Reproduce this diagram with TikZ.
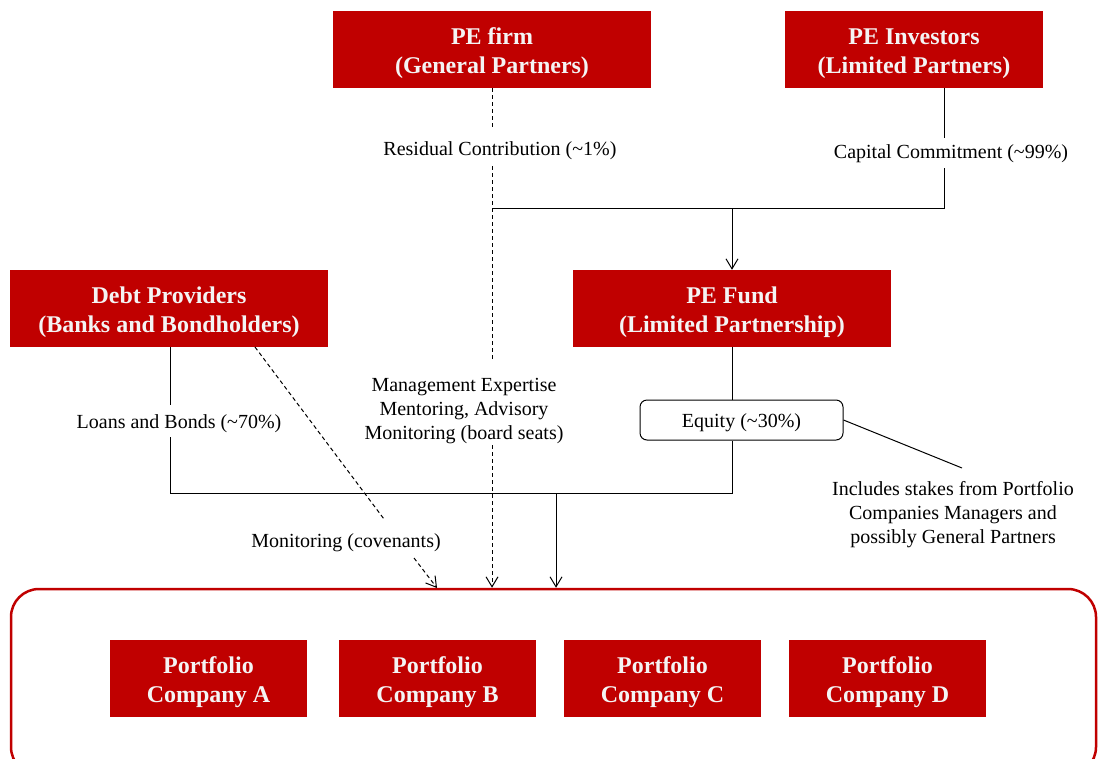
\documentclass[tikz,border=0pt]{standalone}
\usepackage{fontspec}
\setmainfont{Liberation Serif}
\usetikzlibrary{arrows.meta}
\definecolor{pered}{HTML}{C00000}
\definecolor{boxtext}{HTML}{F4F4F4}
\begin{document}
\begin{tikzpicture}[x=1pt,y=-1pt,
  redbox/.style={fill=pered, inner sep=0pt, minimum width=318pt, minimum height=77pt},
  boxtxt/.style={text=boxtext, font=\fontsize{24}{29}\selectfont\bfseries, align=center, inner sep=0pt, yshift=-4pt},
  pbox/.style={redbox, minimum width=197pt},
  lbl/.style={font=\fontsize{20}{24}\selectfont, align=center, inner sep=2pt, yshift=-3pt},
  eqtxt/.style={font=\fontsize{20}{24}\selectfont, inner sep=0pt, yshift=-3pt},
  ln/.style={line width=1pt},
  dsh/.style={line width=1pt, dash pattern=on 4pt off 3pt},
  arr/.style={-{Straight Barb[length=10pt,width=12pt]}}
]
\useasboundingbox (0,0) rectangle (1099,758);
\clip (0,0) rectangle (1099,758);

% main boxes
\node[redbox, label={[boxtxt]center:PE firm\\(General Partners)}] (firm) at (492,49.5) {};
\node[redbox, minimum width=258pt, label={[boxtxt]center:PE Investors\\(Limited Partners)}] (inv) at (914,49.5) {};
\node[redbox, label={[boxtxt]center:Debt Providers\\(Banks and Bondholders)}] (debt) at (169,308.5) {};
\node[redbox, label={[boxtxt]center:PE Fund\\(Limited Partnership)}] (fund) at (732,308.5) {};

% portfolio group
\node[draw=pered, line width=2.5pt, rounded corners=28pt, minimum width=1085pt, minimum height=186pt, inner sep=0pt] (grp) at (553.5,682) {};
\node[pbox, label={[boxtxt]center:Portfolio\\Company A}] (pa) at (208.5,678.5) {};
\node[pbox, label={[boxtxt]center:Portfolio\\Company B}] (pb) at (437.5,678.5) {};
\node[pbox, label={[boxtxt]center:Portfolio\\Company C}] (pc) at (662.5,678.5) {};
\node[pbox, label={[boxtxt]center:Portfolio\\Company D}] (pd) at (887.5,678.5) {};

% labels
\node[lbl] (rc) at (500,148) {Residual Contribution (\textasciitilde1\%)};
\node[lbl] (cc) at (951,151) {Capital Commitment (\textasciitilde99\%)};
\node[lbl] (lb) at (179,421) {Loans and Bonds (\textasciitilde70\%)};
\node[lbl] (me) at (464,408) {Management Expertise\\Mentoring, Advisory\\Monitoring (board seats)};
\node[draw, line width=1pt, rounded corners=7pt, minimum width=203pt, minimum height=40pt, inner sep=0pt, label={[eqtxt]center:Equity (\textasciitilde30\%)}] (eq) at (741.5,420) {};
\node[lbl] (mc) at (346,540) {Monitoring (covenants)};
\node[lbl] (inc) at (953,512) {Includes stakes from Portfolio\\Companies Managers and\\possibly General Partners};

% coordinates
\coordinate (rcT) at (492,128);
\coordinate (rcB) at (492,166);
\coordinate (meT) at (492,360);
\coordinate (meB) at (492,445);
\coordinate (invS) at (944,88);
\coordinate (ccT) at (944,138);
\coordinate (ccB) at (944,168);
\coordinate (j1) at (492,208);
\coordinate (j2) at (732,208);
\coordinate (j3) at (944,208);
\coordinate (debtS) at (170,347);
\coordinate (lbT) at (170,405);
\coordinate (lbB) at (170,437);
\coordinate (k1) at (170,493);
\coordinate (k2) at (732,493);
\coordinate (k3) at (556,493);
\coordinate (dS) at (255,347);
\coordinate (mcT) at (384,519);
\coordinate (mcB) at (414,558);
\coordinate (mcE) at (437,588);
\coordinate (incT) at (962,468);

% connectors
\draw[dsh] (firm.south) -- (rcT);
\draw[dsh] (rcB) -- (meT);
\draw[dsh, arr] (meB) -- (meB |- grp.north);
\draw[ln] (invS) -- (ccT);
\draw[ln] (ccB) -- (j3) -- (j1);
\draw[ln, arr] (j2) -- (fund.north);
\draw[ln] (debtS) -- (lbT);
\draw[ln] (lbB) -- (k1) -- (k2) -- (k2 |- eq.south);
\draw[ln] (fund.south) -- (fund.south |- eq.north);
\draw[ln, arr] (k3) -- (k3 |- grp.north);
\draw[dsh] (dS) -- (mcT);
\draw[dsh, arr] (mcB) -- (mcE);
\draw[ln] (eq.east) -- (incT);
\end{tikzpicture}
\end{document}
